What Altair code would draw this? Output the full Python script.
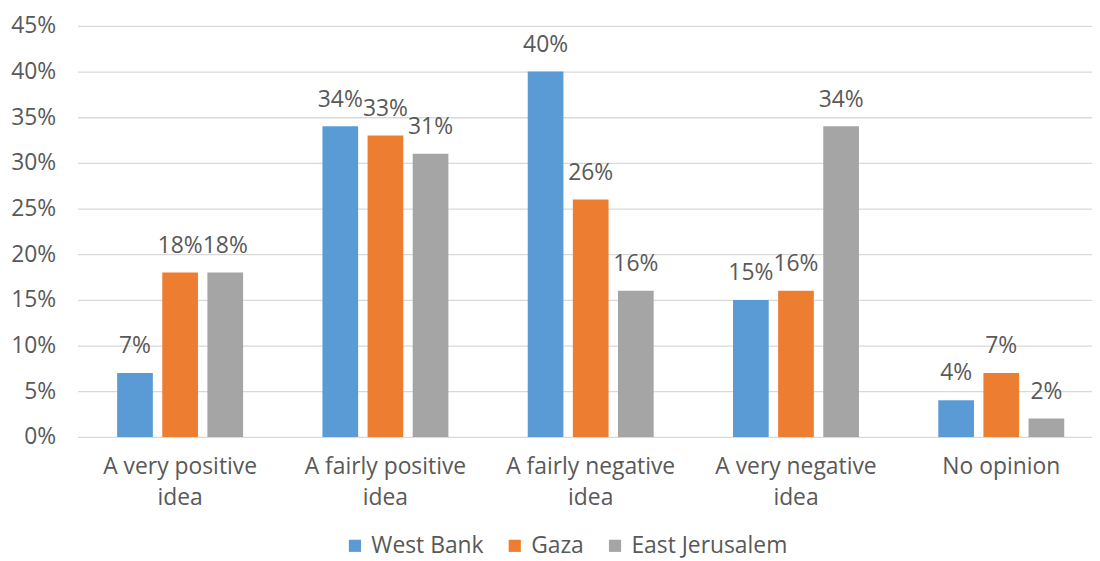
import altair as alt
import pandas as pd

categories = ["A very positive idea", "A fairly positive idea", "A fairly negative idea",
              "A very negative idea", "No opinion"]
regions = ["West Bank", "Gaza", "East Jerusalem"]
west_bank = [7, 34, 40, 15, 4]
gaza = [18, 33, 26, 16, 7]
east_jerusalem = [18, 31, 16, 34, 2]
colors = ["#5B9BD5", "#ED7D31", "#A5A5A5"]

rows = []
for series, vals in zip(regions, [west_bank, gaza, east_jerusalem]):
    for c, v in zip(categories, vals):
        rows.append({"category": c, "region": series, "value": v / 100})
df = pd.DataFrame(rows)

FONT = "Open Sans"
TXT = "#595959"
FS = 23

x = alt.X("category:N", sort=categories, title=None,
          scale=alt.Scale(range=[0, 1034], paddingInner=0, paddingOuter=0),
          axis=alt.Axis(labelAngle=0, labelFont=FONT, labelFontSize=FS, labelColor=TXT,
                        labelPadding=19, labelLineHeight=31, ticks=False, domain=False,
                        labelExpr="indexof(datum.label,' idea')>=0 ? [replace(datum.label,' idea',''),'idea'] : datum.label"))
xo = alt.XOffset("region:N", sort=regions,
                 scale=alt.Scale(paddingInner=0.209, paddingOuter=0.879))
y = alt.Y("value:Q", title=None,
          scale=alt.Scale(domain=[0, 0.45], nice=False),
          axis=alt.Axis(format=".0%", values=[i / 100 for i in range(0, 50, 5)],
                        labelFont=FONT, labelFontSize=FS, labelColor=TXT, labelPadding=22,
                        ticks=False, domain=False, gridColor="#D9D9D9", gridWidth=1.3))
color = alt.Color("region:N", sort=regions, title=None,
                  scale=alt.Scale(domain=regions, range=colors),
                  legend=alt.Legend(orient="none", legendX=268, legendY=512, direction="horizontal",
                                    symbolType="square", symbolSize=150, symbolStrokeWidth=0,
                                    labelFont=FONT, labelFontSize=FS, labelColor=TXT,
                                    columnPadding=19, labelOffset=5))

base = alt.Chart(df).encode(x=x, xOffset=xo, y=y)
bars = base.mark_bar().encode(color=color)
labels = base.mark_text(baseline="alphabetic", dy=-20, font=FONT, fontSize=FS, color=TXT).encode(
    text=alt.Text("value:Q", format=".0%"))

chart = (bars + labels).properties(
    width=1022, height=414,
    autosize=alt.AutoSizeParams(type="none"),
    padding={"left": 70, "top": 16, "right": 0, "bottom": 123},
).configure_view(stroke=None)

chart.save("out.html", embed_options={"renderer": "svg", "actions": False})
